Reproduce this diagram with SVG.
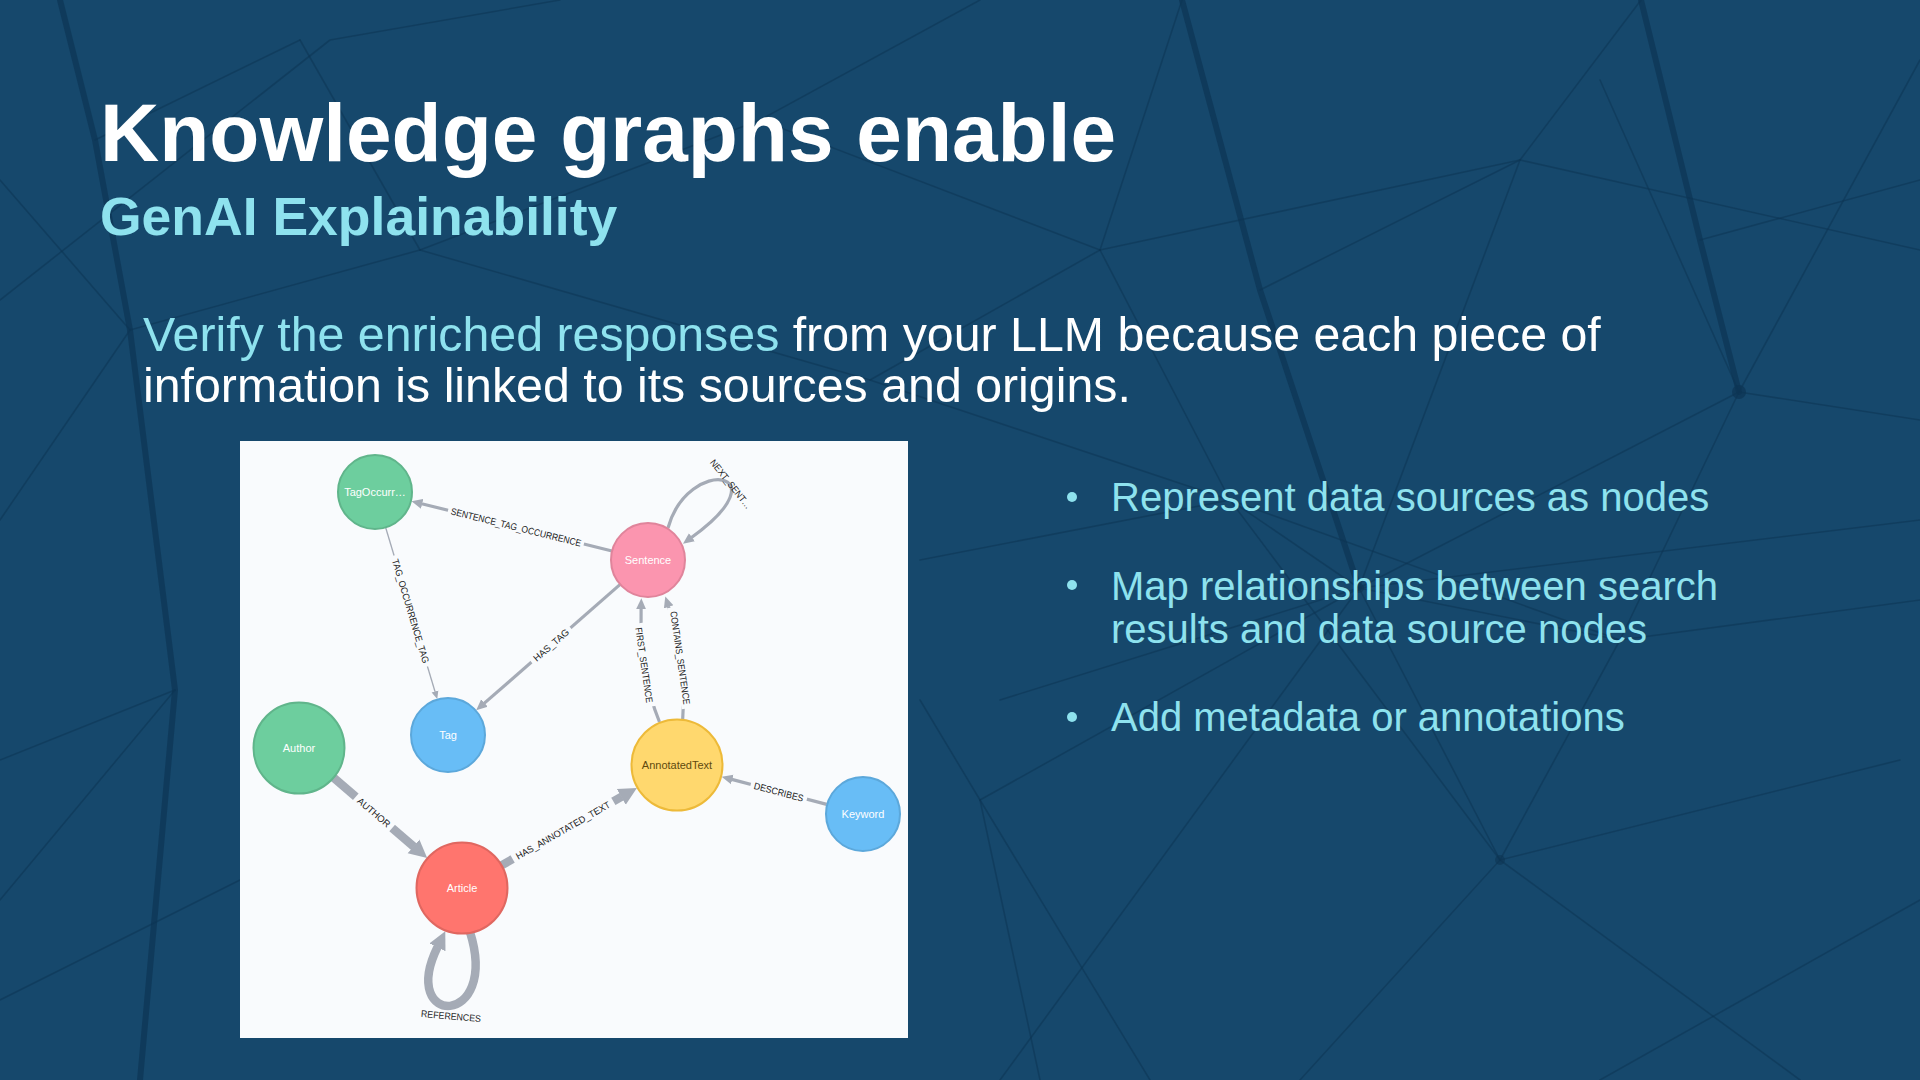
<svg xmlns="http://www.w3.org/2000/svg" width="1920" height="1080" viewBox="0 0 1920 1080">
<defs>
<style>
.bgline{fill:none;stroke:#0d3554;stroke-linecap:round;stroke-linejoin:round}
.thin{stroke-width:1.6;opacity:.55}
.thick{stroke-width:6;opacity:.7}
.title{font-family:"Liberation Sans",Arial,sans-serif;font-weight:bold;fill:#ffffff}
.sub{font-family:"Liberation Sans",Arial,sans-serif;font-weight:bold;fill:#8ee2ee}
.para{font-family:"Liberation Sans",Arial,sans-serif;font-size:48.3px;fill:#ffffff}
.cyan{fill:#8ee2ee}
.bullet{font-family:"Liberation Sans",Arial,sans-serif;font-size:40px;fill:#8ee2ee}
.edge{fill:none;stroke:#a5abb6}
.e3{stroke-width:3.2}
.e1{stroke-width:1.4}
.e8{stroke-width:8.5}
.elabel{font-family:"Liberation Sans",Arial,sans-serif;font-size:9.5px;fill:#222222;text-anchor:middle;dominant-baseline:central}
.mask{fill:#f9fbfd}
.nlabel{font-family:"Liberation Sans",Arial,sans-serif;font-size:11px;fill:#ffffff;text-anchor:middle;dominant-baseline:central}
.green{fill:#6dce9e;stroke:#60b58b;stroke-width:2}
.blue{fill:#68bdf6;stroke:#5ca8db;stroke-width:2}
.pink{fill:#fb95af;stroke:#e0849b;stroke-width:2}
.red{fill:#ff756e;stroke:#e06760;stroke-width:2}
.yellow{fill:#ffd86e;stroke:#edba39;stroke-width:2}
</style>
<marker id="arrThin" markerUnits="userSpaceOnUse" markerWidth="12" markerHeight="12" refX="0.5" refY="6" orient="auto">
<path d="M0,1 L11,6 L0,11 z" fill="#a5abb6"/>
</marker>
<marker id="arrHair" markerUnits="userSpaceOnUse" markerWidth="10" markerHeight="8" refX="0.5" refY="4" orient="auto">
<path d="M0,0.5 L8,4 L0,7.5 z" fill="#a5abb6"/>
</marker>
<marker id="arrThick" markerUnits="userSpaceOnUse" markerWidth="20" markerHeight="20" refX="0.5" refY="10" orient="auto">
<path d="M0,1 L18,10 L0,19 z" fill="#a5abb6"/>
</marker>
</defs>

<rect x="0" y="0" width="1920" height="1080" fill="#16486c"/>

<g id="background-network">
<path class="bgline thick" d="M60,0 L95,140 L130,330 L175,690 L140,1080"/>
<path class="bgline thick" d="M1182,0 L1260,290 L1359,588"/>
<path class="bgline thick" d="M1641,0 L1700,240 L1739,392"/>
<path class="bgline thin" d="M0,300 L330,40 L560,0"/>
<path class="bgline thin" d="M0,520 L130,330 L420,250 L760,120 L980,0"/>
<path class="bgline thin" d="M175,690 L0,760"/>
<path class="bgline thin" d="M1359,588 L1520,160 L1641,0"/>
<path class="bgline thin" d="M1359,588 L1739,392 L1920,60"/>
<path class="bgline thin" d="M1739,392 L1920,420"/>
<path class="bgline thin" d="M1359,588 L1500,860 L1900,760"/>
<path class="bgline thin" d="M1500,860 L1300,1080"/>
<path class="bgline thin" d="M1500,860 L1800,1080"/>
<path class="bgline thin" d="M1359,588 L1000,1080"/>
<path class="bgline thin" d="M1359,588 L1230,500 L1100,250 L1182,0"/>
<path class="bgline thin" d="M1100,250 L760,120"/>
<path class="bgline thin" d="M1620,640 L1739,392"/>
<path class="bgline thin" d="M1620,640 L1500,860"/>
<path class="bgline thin" d="M1920,600 L1620,640 L1359,588"/>
<path class="bgline thin" d="M980,800 L1359,588"/>
<path class="bgline thin" d="M980,800 L1150,1080"/>
<path class="bgline thin" d="M1260,290 L1520,160 L1920,250"/>
<path class="bgline thin" d="M0,900 L175,690"/>
<path class="bgline thin" d="M0,1000 L240,880"/>
<path class="bgline thin" d="M1600,1080 L1920,900"/>
<path class="bgline thin" d="M1739,392 L1600,80"/>
<path class="bgline thin" d="M300,40 L420,250"/>
<path class="bgline thin" d="M420,250 L870,380 L1100,250"/>
<path class="bgline thin" d="M870,380 L1230,500"/>
<path class="bgline thin" d="M920,560 L1230,500 L1620,640"/>
<path class="bgline thin" d="M1000,700 L1359,588 L1920,520"/>
<path class="bgline thin" d="M1230,500 L1500,860"/>
<path class="bgline thin" d="M1100,250 L1520,160"/>
<path class="bgline thin" d="M1040,1080 L980,800 L920,700"/>
<path class="bgline thin" d="M1700,240 L1920,180"/>
<path class="bgline thin" d="M130,330 L0,180"/>
<path class="bgline thin" d="M95,140 L300,40"/>
<circle cx="1739" cy="392" r="7" fill="#0d3554" opacity="0.7"/>
<circle cx="1359" cy="588" r="5" fill="#0d3554" opacity="0.6"/>
<circle cx="1500" cy="860" r="5" fill="#0d3554" opacity="0.6"/>
</g>

<g id="heading">
<text class="title" x="100" y="161" font-size="82">Knowledge graphs enable</text>
<text class="sub" x="100" y="235" font-size="53.5">GenAI Explainability</text>
</g>

<g id="intro">
<text class="para" x="143" y="351"><tspan class="cyan">Verify the enriched responses</tspan> from your LLM because each piece of</text>
<text class="para" x="143" y="402">information is linked to its sources and origins.</text>
</g>

<g id="bullets">
<circle cx="1072" cy="497" r="5" fill="#8ee2ee"/>
<text class="bullet" x="1111" y="511">Represent data sources as nodes</text>
<circle cx="1072" cy="585" r="5" fill="#8ee2ee"/>
<text class="bullet" x="1111" y="600">Map relationships between search</text>
<text class="bullet" x="1111" y="643">results and data source nodes</text>
<circle cx="1072" cy="717" r="5" fill="#8ee2ee"/>
<text class="bullet" x="1111" y="731">Add metadata or annotations</text>
</g>

<g id="graph-panel">
<rect x="240" y="441" width="668" height="597" fill="#f9fbfd"/>
</g>

<g id="connectors">
<g id="e-sentence-tagocc">
<path class="edge e3" d="M612,551 L421.7,503.7" marker-end="url(#arrThin)"/>
<g transform="translate(516,527) rotate(14)"><rect class="mask" x="-70" y="-6" width="140" height="12"/><text class="elabel" x="0" y="0" textLength="134" lengthAdjust="spacingAndGlyphs">SENTENCE_TAG_OCCURRENCE</text></g>
</g>
<g id="e-tagocc-tag">
<path class="edge e1" d="M385.6,527.4 L435.1,691.9" marker-end="url(#arrHair)"/>
<g transform="translate(410.7,611) rotate(73.3)"><rect class="mask" x="-58" y="-5" width="116" height="10"/><text class="elabel" x="0" y="0" textLength="108" lengthAdjust="spacingAndGlyphs">TAG_OCCURRENCE_TAG</text></g>
</g>
<g id="e-sentence-tag">
<path class="edge e3" d="M620.2,584.4 L484.1,703.4" marker-end="url(#arrThin)"/>
<g transform="translate(551,645) rotate(-41.2)"><rect class="mask" x="-26" y="-6" width="52" height="12"/><text class="elabel" x="0" y="0" textLength="44" lengthAdjust="spacingAndGlyphs">HAS_TAG</text></g>
</g>
<g id="e-next-sentence">
<path class="edge e3" d="M668,528 C688,455 785,470 691.5,537.5" marker-end="url(#arrThin)"/>
<g transform="translate(731,484) rotate(51.6)"><text class="elabel" x="0" y="0" textLength="60" lengthAdjust="spacingAndGlyphs">NEXT_SENT…</text></g>
</g>
<g id="e-first-sentence">
<path class="edge e3" d="M659.5,722 Q639.6,674 641.1,608.8" marker-end="url(#arrThin)"/>
<g transform="translate(644.3,665) rotate(81.7)"><rect class="mask" x="-42" y="-6" width="84" height="12"/><text class="elabel" x="0" y="0" textLength="76" lengthAdjust="spacingAndGlyphs">FIRST_SENTENCE</text></g>
</g>
<g id="e-contains-sentence">
<path class="edge e3" d="M682.7,719 Q686.6,663.1 668.5,606.4" marker-end="url(#arrThin)"/>
<g transform="translate(680.4,657.8) rotate(81.8)"><rect class="mask" x="-51" y="-6" width="102" height="12"/><text class="elabel" x="0" y="0" textLength="94" lengthAdjust="spacingAndGlyphs">CONTAINS_SENTENCE</text></g>
</g>
<g id="e-describes">
<path class="edge e3" d="M826.7,804.4 L731.8,779.4" marker-end="url(#arrThin)"/>
<g transform="translate(778.8,791.8) rotate(14.76)"><rect class="mask" x="-29" y="-6" width="58" height="12"/><text class="elabel" x="0" y="0" textLength="51" lengthAdjust="spacingAndGlyphs">DESCRIBES</text></g>
</g>
<g id="e-author">
<path class="edge e8" d="M333.7,777.8 L413.9,846.7" marker-end="url(#arrThick)"/>
<g transform="translate(374,812.4) rotate(40.66)"><rect class="mask" x="-24" y="-8" width="48" height="16"/><text class="elabel" x="0" y="0" textLength="40" lengthAdjust="spacingAndGlyphs">AUTHOR</text></g>
</g>
<g id="e-has-annotated-text">
<path class="edge e8" d="M501.5,865.4 L621.7,796.6" marker-end="url(#arrThick)"/>
<g transform="translate(563,830.2) rotate(-29.77)"><rect class="mask" x="-58" y="-8" width="116" height="16"/><text class="elabel" x="0" y="0" textLength="107" lengthAdjust="spacingAndGlyphs">HAS_ANNOTATED_TEXT</text></g>
</g>
<g id="e-references">
<path class="edge e8" d="M470,932 C500,1028 398,1028 437.6,946.9" marker-end="url(#arrThick)"/>
<g transform="translate(451,1016) rotate(5)"><text class="elabel" x="0" y="0" textLength="60" lengthAdjust="spacingAndGlyphs">REFERENCES</text></g>
</g>
</g>

<g id="node-tagoccurrence">
<circle class="green" cx="375" cy="492" r="37"/>
<text class="nlabel" x="375" y="492">TagOccurr…</text>
</g>
<g id="node-sentence">
<circle class="pink" cx="648" cy="560" r="37"/>
<text class="nlabel" x="648" y="560">Sentence</text>
</g>
<g id="node-tag">
<circle class="blue" cx="448" cy="735" r="37"/>
<text class="nlabel" x="448" y="735">Tag</text>
</g>
<g id="node-author">
<circle class="green" cx="299" cy="748" r="45.5"/>
<text class="nlabel" x="299" y="748">Author</text>
</g>
<g id="node-article">
<circle class="red" cx="462" cy="888" r="45.5"/>
<text class="nlabel" x="462" y="888">Article</text>
</g>
<g id="node-annotatedtext">
<circle class="yellow" cx="677" cy="765" r="45.5"/>
<text class="nlabel" x="677" y="765" style="fill:#604a0e">AnnotatedText</text>
</g>
<g id="node-keyword">
<circle class="blue" cx="863" cy="814" r="37"/>
<text class="nlabel" x="863" y="814">Keyword</text>
</g>
</svg>
